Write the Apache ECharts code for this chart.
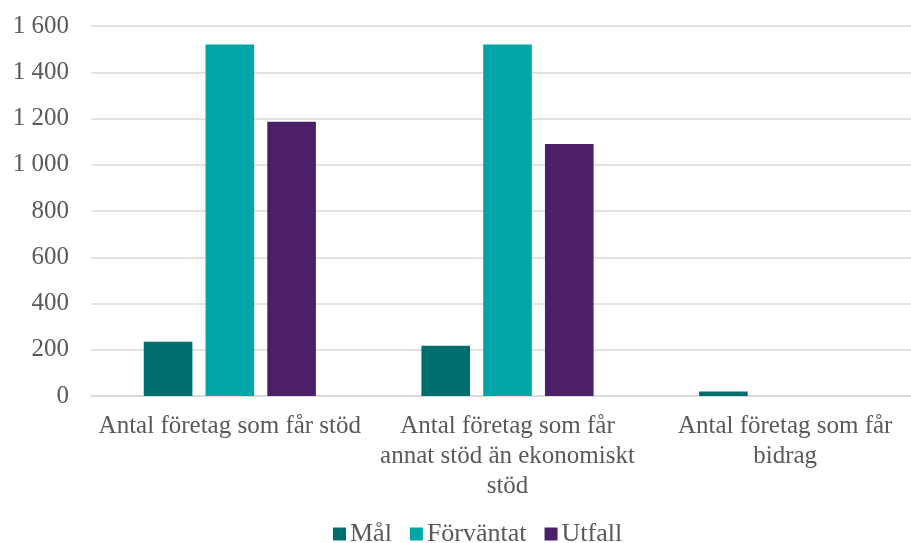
<!DOCTYPE html>
<html>
<head>
<meta charset="utf-8">
<script src="https://cdn.jsdelivr.net/npm/echarts@6/dist/echarts.min.js"></script>
<style>
  html, body { margin: 0; padding: 0; background: #fff; }
  #chart { width: 911px; height: 543px; }
</style>
</head>
<body>
<div id="chart"></div>
<script>
// categories and values
const categories = [
    'Antal företag som får stöd',
    'Antal företag som får\nannat stöd än ekonomiskt\nstöd',
    'Antal företag som får\nbidrag'
];
const malValues = [235, 217, 20];
const forvantatValues = [1520, 1520, 0];
const utfallValues = [1186, 1090, 0];

const fontName = '"Liberation Serif", "DejaVu Serif", serif';
const textColor = '#595959';

let chart = echarts.init(document.getElementById('chart'));

// thousands with a space, "1 600"
function spaceThousands(v) {
    return String(v).replace(/\B(?=(\d{3})+(?!\d))/g, ' ');
}

let option = {
    animation: false,
    textStyle: { fontFamily: fontName },
    grid: {
        top: 26,
        left: 91,
        width: 833,   // plot runs a bit past the canvas edge, like the original
        bottom: 147,
        outerBoundsMode: 'none'
    },
    legend: {
        top: 516,
        left: 328,
        itemWidth: 13,
        itemHeight: 13,
        itemGap: 18,
        icon: 'rect',
        textStyle: {
            fontFamily: fontName,
            fontSize: 26,
            color: textColor,
            padding: [0, 0, 0, -1]
        },
        data: ['Mål', 'Förväntat', 'Utfall']
    },
    xAxis: {
        type: 'category',
        data: categories,
        axisTick: { show: false },
        axisLine: { lineStyle: { color: '#d9d9d9', width: 1.5 } },
        axisLabel: {
            fontFamily: fontName,
            fontSize: 25,
            color: textColor,
            lineHeight: 30,
            margin: 15,
            interval: 0
        }
    },
    yAxis: {
        type: 'value',
        min: 0,
        max: 1600,
        interval: 200,
        axisLine: { show: false },
        axisTick: { show: false },
        splitLine: { lineStyle: { color: '#d9d9d9', width: 1.5 } },
        axisLabel: {
            fontFamily: fontName,
            fontSize: 25,
            color: textColor,
            margin: 22,
            formatter: spaceThousands
        }
    },
    series: [
        {
            name: 'Mål',
            type: 'bar',
            data: malValues,
            itemStyle: { color: '#006e6e' },
            barGap: '27%',
            barCategoryGap: '38%'
        },
        {
            name: 'Förväntat',
            type: 'bar',
            data: forvantatValues,
            itemStyle: { color: '#00a6a6' }
        },
        {
            name: 'Utfall',
            type: 'bar',
            data: utfallValues,
            itemStyle: { color: '#4b2068' }
        }
    ]
};

chart.setOption(option);
</script>
</body>
</html>
